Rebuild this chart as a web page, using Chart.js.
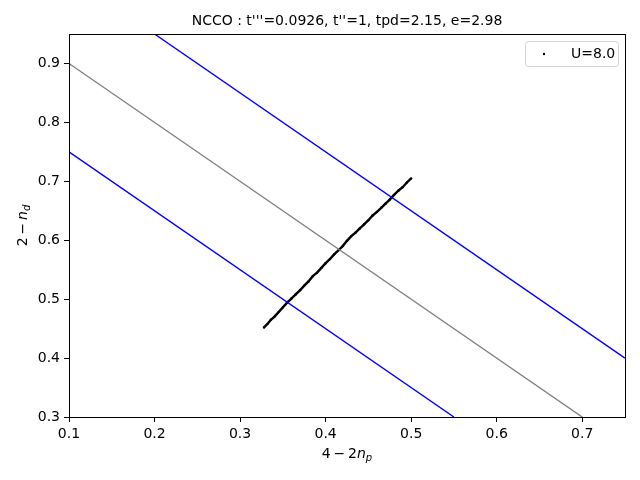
<!DOCTYPE html>
<html>
<head>
<meta charset="utf-8">
<script src="https://cdn.jsdelivr.net/npm/chart.js@4"></script>
<style>
  body { margin: 0; background: #fff; }
  canvas { display: block; }
</style>
</head>
<body>
<canvas id="myChart" width="640" height="480"></canvas>
<script>
// values
const uX = [0.328, 0.332, 0.336, 0.340, 0.345, 0.350, 0.355, 0.360, 0.365, 0.370, 0.375, 0.380,
            0.385, 0.390, 0.395, 0.400, 0.405, 0.410, 0.415, 0.420, 0.425, 0.430, 0.435, 0.440,
            0.445, 0.450, 0.455, 0.460, 0.465, 0.470, 0.475, 0.480, 0.485, 0.490, 0.495, 0.500];
const uY = [0.452, 0.458, 0.465, 0.470, 0.478, 0.486, 0.494, 0.501, 0.508, 0.515, 0.523, 0.530,
            0.539, 0.545, 0.553, 0.561, 0.568, 0.576, 0.583, 0.590, 0.599, 0.607, 0.613, 0.620,
            0.627, 0.634, 0.642, 0.648, 0.655, 0.662, 0.669, 0.677, 0.684, 0.690, 0.698, 0.705];
const midLine = [[0.1, 0.9], [0.7, 0.3]];
const upperLine = [[0.2, 0.95], [0.75, 0.4]];
const lowerLine = [[0.1, 0.75], [0.55, 0.3]];
const xTicks = [0.1, 0.2, 0.3, 0.4, 0.5, 0.6, 0.7];
const yTicks = [0.3, 0.4, 0.5, 0.6, 0.7, 0.8, 0.9];
const titleText = "NCCO : t'''=0.0926, t''=1, tpd=2.15, e=2.98";
const legendLabel = 'U=8.0';

const toPts = (pairs) => pairs.map(p => ({ x: p[0], y: p[1] }));
const FONT = "'DejaVu Sans', sans-serif";

// draws "base" + italic letter + subscript
const drawMath = (ctx, base, letter, sub, cx, cy) => {
   ctx.font = '14px ' + FONT;
   const w1 = ctx.measureText(base).width;
   ctx.font = 'italic 14px ' + FONT;
   const w2 = ctx.measureText(letter).width;
   ctx.font = 'italic 10px ' + FONT;
   const w3 = ctx.measureText(sub).width;
   let x = cx - (w1 + w2 + w3) / 2;
   ctx.textBaseline = 'alphabetic';
   ctx.textAlign = 'left';
   ctx.fillStyle = '#000';
   ctx.font = '14px ' + FONT;
   ctx.fillText(base, x, cy);
   x += w1;
   ctx.font = 'italic 14px ' + FONT;
   ctx.fillText(letter, x, cy);
   x += w2;
   ctx.font = 'italic 10px ' + FONT;
   ctx.fillText(sub, x, cy + 3);
}

const decorPlugin = {
   id: 'decor',
   afterDraw(chart) {
      const ctx = chart.ctx;
      const a = chart.chartArea;
      ctx.save();
      // frame
      ctx.strokeStyle = '#000';
      ctx.lineWidth = 1;
      ctx.strokeRect(Math.round(a.left) + 0.5, Math.round(a.top) + 0.5,
                     Math.round(a.right - a.left), Math.round(a.bottom - a.top));
      // title
      ctx.fillStyle = '#000';
      ctx.font = '14px ' + FONT;
      ctx.textAlign = 'center';
      ctx.textBaseline = 'alphabetic';
      ctx.fillText(titleText, (a.left + a.right) / 2, 25);
      // axis titles
      drawMath(ctx, '4\u2009\u2212\u20092', 'n', 'p', (a.left + a.right) / 2, 458);
      ctx.save();
      ctx.translate(27, (a.top + a.bottom) / 2);
      ctx.rotate(-Math.PI / 2);
      drawMath(ctx, '2\u2009\u2212\u2009', 'n', 'd', 0, 0);
      ctx.restore();
      // legend
      const lx = 525, ly = 41, lw = 93, lh = 25;
      ctx.beginPath();
      ctx.roundRect(lx + 0.5, ly + 0.5, lw, lh, 3);
      ctx.fillStyle = 'rgba(255,255,255,0.8)';
      ctx.fill();
      ctx.strokeStyle = '#d5d5d5';
      ctx.stroke();
      ctx.beginPath();
      ctx.arc(lx + 19, ly + 13, 1.2, 0, Math.PI * 2);
      ctx.fillStyle = '#000';
      ctx.fill();
      ctx.font = '14px ' + FONT;
      ctx.textAlign = 'left';
      ctx.textBaseline = 'middle';
      ctx.fillText(legendLabel, lx + 46, ly + 13);
      ctx.restore();
   }
}

const ctx = document.getElementById('myChart').getContext('2d');
new Chart(ctx, {
   type: 'scatter',
   data: {
      datasets: [
         {
            label: 'mid',
            data: toPts(midLine),
            showLine: true,
            borderColor: '#808080',
            borderWidth: 1.4,
            pointRadius: 0
         },
         {
            label: 'upper',
            data: toPts(upperLine),
            showLine: true,
            borderColor: '#0000ff',
            borderWidth: 1.4,
            pointRadius: 0
         },
         {
            label: 'lower',
            data: toPts(lowerLine),
            showLine: true,
            borderColor: '#0000ff',
            borderWidth: 1.4,
            pointRadius: 0
         },
         {
            label: legendLabel,
            data: uX.map((x, i) => ({ x: x, y: uY[i] })),
            showLine: true,
            borderColor: '#000',
            borderWidth: 2.4,
            pointRadius: 1.2,
            pointBackgroundColor: '#000',
            pointBorderWidth: 0
         }
      ]
   },
   options: {
      responsive: false,
      animation: false,
      devicePixelRatio: 1,
      layout: { padding: { left: 0, top: 34, right: 15, bottom: 0 } },
      plugins: {
         legend: { display: false },
         tooltip: { enabled: false },
         title: { display: false }
      },
      scales: {
         x: {
            type: 'linear',
            min: 0.1,
            max: 0.75,
            afterFit: (s) => { s.height = 63; },
            afterBuildTicks: (s) => { s.ticks = xTicks.map(v => ({ value: v })); },
            grid: { drawOnChartArea: false, drawTicks: true, tickLength: 5, color: '#000' },
            border: { display: false },
            ticks: {
               color: '#000',
               padding: 4,
               maxRotation: 0,
               font: { family: FONT, size: 14 },
               callback: (v) => v.toFixed(1)
            }
         },
         y: {
            type: 'linear',
            min: 0.3,
            max: 0.95,
            afterFit: (s) => { s.width = 69; },
            afterBuildTicks: (s) => { s.ticks = yTicks.map(v => ({ value: v })); },
            grid: { drawOnChartArea: false, drawTicks: true, tickLength: 5, color: '#000' },
            border: { display: false },
            ticks: {
               color: '#000',
               padding: 4,
               font: { family: FONT, size: 14 },
               callback: (v) => v.toFixed(1)
            }
         }
      }
   },
   plugins: [decorPlugin]
});
</script>
</body>
</html>
